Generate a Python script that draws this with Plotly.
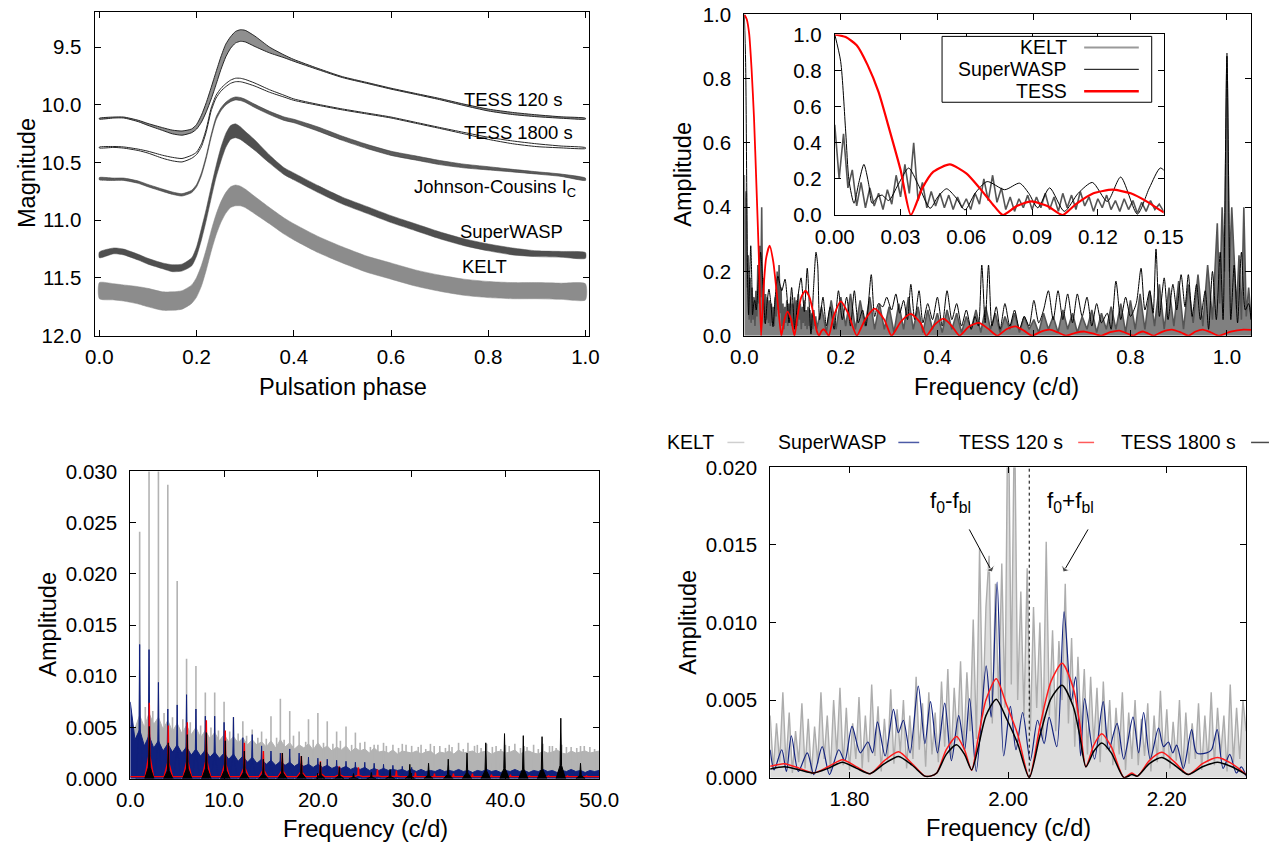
import plotly.graph_objects as go

W, H = 1281, 843
FONT = "Liberation Sans"
A = 0.975  # compensation for the photographed page scale

# ---------------- Panel 1: phased light curves ----------------
lc_phase = [0.00, 0.03, 0.05, 0.08, 0.10, 0.13, 0.15, 0.17, 0.19, 0.20, 0.21, 0.22,
            0.23, 0.24, 0.25, 0.26, 0.27, 0.28, 0.29, 0.30, 0.32, 0.35, 0.38, 0.40,
            0.45, 0.50, 0.55, 0.60, 0.65, 0.70, 0.75, 0.80, 0.85, 0.90, 0.95, 1.00]
tess120_mag = [10.12, 10.11, 10.11, 10.14, 10.17, 10.21, 10.235, 10.245, 10.225, 10.19, 10.12, 10.02,
               9.90, 9.77, 9.64, 9.53, 9.46, 9.415, 9.40, 9.405, 9.45, 9.525, 9.58, 9.615,
               9.69, 9.76, 9.81, 9.86, 9.905, 9.95, 10.00, 10.045, 10.075, 10.095, 10.11, 10.12]
tess120_spread = [0.004, 0.004, 0.004, 0.006, 0.008, 0.012, 0.016, 0.018, 0.016, 0.02, 0.03, 0.04,
                  0.05, 0.055, 0.055, 0.055, 0.05, 0.05, 0.05, 0.05, 0.045, 0.025, 0.012, 0.008,
                  0.005, 0.004, 0.004, 0.004, 0.004, 0.005, 0.006, 0.008, 0.009, 0.008, 0.006, 0.004]
tess1800_mag = [10.37, 10.365, 10.37, 10.39, 10.41, 10.45, 10.47, 10.48, 10.45, 10.42, 10.35, 10.22,
                10.04, 9.93, 9.87, 9.83, 9.80, 9.785, 9.785, 9.795, 9.825, 9.88, 9.925, 9.955,
                10.00, 10.04, 10.075, 10.11, 10.155, 10.20, 10.245, 10.29, 10.325, 10.35, 10.365, 10.375]
tess1800_spread = [0.004, 0.004, 0.005, 0.006, 0.008, 0.013, 0.015, 0.015, 0.013, 0.01, 0.012, 0.012,
                   0.012, 0.012, 0.012, 0.013, 0.014, 0.015, 0.015, 0.015, 0.013, 0.011, 0.008, 0.006,
                   0.004, 0.004, 0.004, 0.004, 0.004, 0.004, 0.006, 0.009, 0.012, 0.012, 0.008, 0.004]
jc_mag = [10.64, 10.645, 10.645, 10.67, 10.70, 10.74, 10.765, 10.78, 10.75, 10.70, 10.60, 10.45,
          10.27, 10.12, 10.04, 9.99, 9.96, 9.945, 9.95, 9.965, 10.01, 10.07, 10.12, 10.14,
          10.21, 10.29, 10.36, 10.42, 10.46, 10.50, 10.53, 10.55, 10.57, 10.59, 10.61, 10.645]
jc_spread = [0.010, 0.010, 0.010, 0.010, 0.010, 0.010, 0.010, 0.010, 0.010, 0.010, 0.012, 0.012,
             0.012, 0.012, 0.012, 0.012, 0.013, 0.013, 0.013, 0.013, 0.014, 0.014, 0.015, 0.015,
             0.018, 0.018, 0.018, 0.018, 0.018, 0.018, 0.016, 0.014, 0.011, 0.010, 0.010, 0.010]
swasp_mag = [11.30, 11.265, 11.275, 11.32, 11.355, 11.395, 11.415, 11.41, 11.36, 11.27, 11.12, 10.95,
             10.76, 10.58, 10.43, 10.31, 10.24, 10.225, 10.245, 10.28, 10.35, 10.47, 10.575, 10.62,
             10.73, 10.83, 10.91, 10.99, 11.06, 11.13, 11.19, 11.235, 11.27, 11.29, 11.295, 11.305]
swasp_spread = [0.025, 0.025, 0.025, 0.025, 0.025, 0.025, 0.03, 0.03, 0.035, 0.04, 0.05, 0.05,
                0.05, 0.05, 0.06, 0.06, 0.06, 0.06, 0.055, 0.05, 0.045, 0.035, 0.03, 0.03,
                0.03, 0.03, 0.03, 0.03, 0.03, 0.03, 0.03, 0.03, 0.03, 0.025, 0.025, 0.025]
kelt_mag = [11.61, 11.62, 11.63, 11.65, 11.67, 11.70, 11.70, 11.69, 11.64, 11.58, 11.48, 11.34,
            11.18, 11.04, 10.93, 10.85, 10.80, 10.785, 10.79, 10.81, 10.87, 10.96, 11.05, 11.10,
            11.21, 11.30, 11.38, 11.44, 11.50, 11.545, 11.58, 11.60, 11.61, 11.61, 11.615, 11.62]
kelt_spread = [0.07, 0.07, 0.07, 0.075, 0.08, 0.08, 0.08, 0.08, 0.08, 0.085, 0.09, 0.09,
               0.09, 0.09, 0.09, 0.09, 0.09, 0.09, 0.085, 0.08, 0.075, 0.07, 0.07, 0.07,
               0.07, 0.07, 0.07, 0.07, 0.07, 0.07, 0.07, 0.07, 0.07, 0.07, 0.07, 0.07]
lc_labels = ["TESS 120 s", "TESS 1800 s", "Johnson-Cousins I<sub>C</sub>", "SuperWASP", "KELT"]
lc_label_x = [0.851, 0.863, 0.814, 0.847, 0.793]
lc_label_y = [9.958, 10.239, 10.72, 11.10, 11.40]

# ---------------- Panel 2: spectral windows ----------------
win_kelt_f = [0.000, 0.002, 0.004, 0.006, 0.008, 0.010, 0.012, 0.014, 0.016, 0.018, 0.020, 0.022,
              0.024, 0.026, 0.028, 0.030, 0.032, 0.034, 0.036, 0.038, 0.040, 0.042, 0.044, 0.046,
              0.048, 0.050, 0.052, 0.054, 0.056, 0.058, 0.060, 0.062, 0.064, 0.066, 0.068, 0.070,
              0.072, 0.074, 0.076, 0.078, 0.080, 0.082, 0.084, 0.086, 0.088, 0.090, 0.092, 0.094,
              0.096, 0.098, 0.100, 0.102, 0.104, 0.106, 0.108, 0.110, 0.112, 0.114, 0.116, 0.118,
              0.120, 0.122, 0.124, 0.126, 0.128, 0.130, 0.132, 0.134, 0.136, 0.138, 0.140, 0.142,
              0.144, 0.146, 0.148, 0.150,
              0.16, 0.17, 0.18, 0.19, 0.20, 0.21, 0.22, 0.23, 0.24, 0.25, 0.26, 0.27, 0.28, 0.29,
              0.30, 0.31, 0.32, 0.33, 0.34, 0.35, 0.36, 0.37, 0.38, 0.39, 0.40, 0.41, 0.42, 0.43,
              0.44, 0.45, 0.46, 0.47, 0.48, 0.49, 0.50, 0.51, 0.52, 0.53, 0.54, 0.55, 0.56, 0.57,
              0.58, 0.59, 0.60, 0.61, 0.62, 0.63, 0.64, 0.65, 0.66, 0.67, 0.68, 0.69, 0.70, 0.71,
              0.72, 0.73, 0.74, 0.75, 0.76, 0.77, 0.78, 0.79, 0.80, 0.81, 0.82, 0.83, 0.84, 0.85,
              0.86, 0.87, 0.88, 0.89, 0.90, 0.91, 0.92, 0.93, 0.94, 0.95, 0.96, 0.97,
              0.98, 0.985, 0.99, 0.995, 1.00, 1.005, 1.01, 1.02, 1.025, 1.03, 1.035, 1.04, 1.045, 1.05]
win_kelt_a = [0.50, 0.20, 0.45, 0.15, 0.25, 0.05, 0.18, 0.04, 0.15, 0.05, 0.12, 0.03,
              0.14, 0.06, 0.22, 0.10, 0.28, 0.12, 0.40, 0.08, 0.18, 0.04, 0.13, 0.05,
              0.12, 0.04, 0.11, 0.03, 0.10, 0.04, 0.09, 0.03, 0.12, 0.06, 0.20, 0.08,
              0.22, 0.07, 0.15, 0.03, 0.10, 0.02, 0.09, 0.04, 0.11, 0.03, 0.10, 0.04,
              0.12, 0.03, 0.10, 0.02, 0.12, 0.04, 0.11, 0.03, 0.13, 0.05, 0.10, 0.02,
              0.09, 0.04, 0.11, 0.03, 0.08, 0.02, 0.09, 0.03, 0.08, 0.01, 0.07, 0.02,
              0.08, 0.03, 0.06, 0.02,
              0.09, 0.01, 0.11, 0.02, 0.12, 0.03, 0.13, 0.02, 0.11, 0.03, 0.12, 0.02, 0.10, 0.02,
              0.09, 0.01, 0.10, 0.02, 0.12, 0.02, 0.09, 0.01, 0.08, 0.02, 0.07, 0.01, 0.08, 0.02,
              0.07, 0.01, 0.06, 0.02, 0.08, 0.01, 0.09, 0.02, 0.07, 0.01, 0.06, 0.02, 0.07, 0.01,
              0.06, 0.02, 0.05, 0.01, 0.07, 0.02, 0.06, 0.01, 0.08, 0.02, 0.07, 0.01, 0.06, 0.02,
              0.08, 0.01, 0.07, 0.02, 0.09, 0.02, 0.10, 0.01, 0.11, 0.02, 0.13, 0.02, 0.14, 0.03,
              0.16, 0.02, 0.15, 0.03, 0.17, 0.02, 0.16, 0.04, 0.19, 0.03, 0.22, 0.05,
              0.35, 0.10, 0.40, 0.20, 0.88, 0.20, 0.40, 0.08, 0.25, 0.05, 0.40, 0.06, 0.15, 0.05]

win_swasp_f = [0.000, 0.0027, 0.005, 0.0065, 0.0088, 0.011, 0.0133, 0.0155, 0.017, 0.0195, 0.0216,
               0.0246, 0.029, 0.0337, 0.038, 0.0435, 0.047, 0.051, 0.055, 0.0594, 0.064, 0.0695,
               0.0775, 0.0843, 0.0885, 0.0926, 0.098, 0.1047, 0.111, 0.1175, 0.1243, 0.1304, 0.138,
               0.1435, 0.1485, 0.152, 0.156, 0.163, 0.170, 0.178, 0.186, 0.195, 0.203, 0.212, 0.220,
               0.228, 0.236, 0.245, 0.252, 0.263, 0.270, 0.278, 0.287, 0.295, 0.305, 0.314, 0.322,
               0.330, 0.338, 0.345, 0.353, 0.362, 0.370, 0.380, 0.390, 0.400, 0.410, 0.420, 0.430,
               0.440, 0.450, 0.460, 0.470, 0.478, 0.485, 0.492, 0.499, 0.506, 0.513, 0.522, 0.530,
               0.540, 0.550, 0.560, 0.570, 0.580, 0.590, 0.600, 0.610, 0.620, 0.630, 0.640, 0.650,
               0.660, 0.670, 0.680, 0.690, 0.700, 0.710, 0.720, 0.730, 0.740, 0.752, 0.760, 0.770,
               0.780, 0.790, 0.800, 0.812, 0.822, 0.830, 0.840, 0.847, 0.853, 0.860, 0.870, 0.878,
               0.888, 0.896, 0.905, 0.913, 0.920, 0.928, 0.937, 0.945, 0.955, 0.962, 0.970, 0.978,
               0.986, 0.992, 1.000, 1.008, 1.015, 1.022, 1.030, 1.038, 1.045, 1.050]
win_swasp_a = [1.00, 0.85, 0.46, 0.19, 0.065, 0.18, 0.28, 0.17, 0.065, 0.10, 0.11,
               0.08, 0.17, 0.26, 0.17, 0.037, 0.10, 0.145, 0.10, 0.028, 0.12, 0.185,
               0.14, 0.176, 0.12, 0.04, 0.15, 0.02, 0.12, 0.18, 0.075, 0.21, 0.005,
               0.15, 0.26, 0.22, 0.05, 0.12, 0.03, 0.09, 0.02, 0.14, 0.05, 0.12, 0.03,
               0.14, 0.04, 0.08, 0.03, 0.19, 0.06, 0.10, 0.09, 0.12, 0.08, 0.13, 0.07,
               0.11, 0.05, 0.16, 0.05, 0.14, 0.04, 0.10, 0.05, 0.12, 0.03, 0.14, 0.05,
               0.10, 0.03, 0.08, 0.02, 0.06, 0.03, 0.22, 0.04, 0.22, 0.03, 0.09, 0.02,
               0.10, 0.03, 0.08, 0.02, 0.06, 0.03, 0.11, 0.04, 0.08, 0.14, 0.05, 0.14,
               0.05, 0.13, 0.04, 0.13, 0.06, 0.12, 0.03, 0.10, 0.04, 0.07, 0.02, 0.17,
               0.05, 0.12, 0.06, 0.10, 0.21, 0.08, 0.14, 0.07, 0.27, 0.06, 0.18, 0.05,
               0.16, 0.08, 0.19, 0.09, 0.19, 0.06, 0.16, 0.05, 0.14, 0.02, 0.20, 0.05,
               0.26, 0.05, 0.87, 0.05, 0.22, 0.04, 0.26, 0.08, 0.10, 0.05]

win_tess_f = [0.000, 0.005, 0.010, 0.015, 0.020, 0.025, 0.030, 0.0347, 0.040, 0.045, 0.0525, 0.060,
              0.066, 0.072, 0.0767, 0.083, 0.0896, 0.097, 0.1039, 0.110, 0.118, 0.1266, 0.135, 0.143,
              0.150, 0.155, 0.160, 0.165, 0.170, 0.175, 0.185, 0.200, 0.215, 0.233, 0.250, 0.270,
              0.290, 0.305, 0.325, 0.345, 0.365, 0.377, 0.395, 0.413, 0.430, 0.446, 0.465, 0.486,
              0.505, 0.524, 0.543, 0.562, 0.580, 0.596, 0.615, 0.633, 0.650, 0.667, 0.686, 0.705,
              0.722, 0.739, 0.758, 0.777, 0.795, 0.806, 0.817, 0.827, 0.838, 0.848, 0.867, 0.886,
              0.905, 0.920, 0.935, 0.950, 0.967, 0.983, 1.008, 1.034, 1.050]
win_tess_a = [1.00, 0.985, 0.94, 0.83, 0.68, 0.47, 0.25, 0.0, 0.15, 0.24, 0.28, 0.23,
              0.15, 0.06, 0.0, 0.05, 0.075, 0.05, 0.0, 0.06, 0.12, 0.14, 0.12, 0.07,
              0.015, 0.0, 0.015, 0.02, 0.01, 0.0, 0.06, 0.107, 0.07, 0.0, 0.05, 0.084,
              0.05, 0.0, 0.045, 0.068, 0.04, 0.0, 0.035, 0.053, 0.03, 0.0, 0.028, 0.04,
              0.022, 0.0, 0.02, 0.029, 0.015, 0.0, 0.013, 0.019, 0.01, 0.0, 0.009, 0.013,
              0.007, 0.0, 0.011, 0.016, 0.006, 0.0, 0.009, 0.013, 0.006, 0.0, 0.013, 0.019,
              0.01, 0.0, 0.013, 0.019, 0.01, 0.0, 0.013, 0.019, 0.018]

# ---------------- Panel 3: amplitude spectra 0-50 c/d ----------------
ft_grid = [0.0, 0.5, 1.0, 1.5, 2.0, 2.5, 3.0, 3.5, 4.0, 4.5, 5.0, 5.5, 6.0, 6.5, 7.0, 7.5, 8.0, 8.5,
           9.0, 9.5, 10.0, 10.5, 11.0, 11.5, 12.0, 12.5, 13.0, 13.5, 14.0, 14.5, 15.0, 15.5, 16.0,
           16.5, 17.0, 17.5, 18.0, 18.5, 19.0, 19.5, 20.0, 20.5, 21.0, 21.5, 22.0, 22.5, 23.0, 23.5,
           24.0, 24.5, 25.0, 25.5, 26.0, 26.5, 27.0, 27.5, 28.0, 28.5, 29.0, 29.5, 30.0, 30.5, 31.0,
           31.5, 32.0, 32.5, 33.0, 33.5, 34.0, 34.5, 35.0, 35.5, 36.0, 36.5, 37.0, 37.5, 38.0, 38.5,
           39.0, 39.5, 40.0, 40.5, 41.0, 41.5, 42.0, 42.5, 43.0, 43.5, 44.0, 44.5, 45.0, 45.5, 46.0,
           46.5, 47.0, 47.5, 48.0, 48.5, 49.0, 49.5, 50.0]
kelt_floor = [0.0052, 0.0049, 0.0062, 0.0050, 0.0064, 0.0053, 0.0060, 0.0048, 0.0057, 0.0046, 0.0054,
              0.0044, 0.0052, 0.0043, 0.0050, 0.0040, 0.0047, 0.0039, 0.0045, 0.0037, 0.0043, 0.0036,
              0.0041, 0.0035, 0.0040, 0.0033, 0.0038, 0.0033, 0.0036, 0.0031, 0.0037, 0.0030, 0.0038,
              0.0031, 0.0035, 0.0029, 0.0033, 0.0030, 0.0034, 0.0028, 0.0035, 0.0029, 0.0032, 0.0027,
              0.0031, 0.0028, 0.0032, 0.0026, 0.0030, 0.0027, 0.0029, 0.0025, 0.0030, 0.0026, 0.0027,
              0.0025, 0.0028, 0.0024, 0.0027, 0.0026, 0.0025, 0.0027, 0.0024, 0.0026, 0.0027, 0.0023,
              0.0026, 0.0025, 0.0027, 0.0024, 0.0028, 0.0025, 0.0026, 0.0027, 0.0024, 0.0026, 0.0027,
              0.0024, 0.0026, 0.0027, 0.0025, 0.0026, 0.0028, 0.0024, 0.0026, 0.0027, 0.0025, 0.0024,
              0.0027, 0.0025, 0.0026, 0.0028, 0.0025, 0.0024, 0.0027, 0.0025, 0.0026, 0.0027, 0.0025,
              0.0026, 0.0027]
swasp_floor = [0.0075, 0.0038, 0.0048, 0.0032, 0.0042, 0.0030, 0.0037, 0.0027, 0.0034, 0.0026, 0.0033,
               0.0025, 0.0031, 0.0023, 0.0029, 0.0022, 0.0028, 0.0021, 0.0026, 0.0020, 0.0025, 0.0019,
               0.0024, 0.0017, 0.0022, 0.0016, 0.0021, 0.0015, 0.0019, 0.0014, 0.0018, 0.0013, 0.0017,
               0.0013, 0.0016, 0.0012, 0.0015, 0.0012, 0.0014, 0.0011, 0.0014, 0.0011, 0.0013, 0.0010,
               0.0012, 0.0010, 0.0012, 0.0009, 0.0011, 0.0009, 0.0011, 0.0008, 0.0010, 0.0008, 0.0010,
               0.0008, 0.0009, 0.0008, 0.0009, 0.0007, 0.0009, 0.0007, 0.0009, 0.0007, 0.0008, 0.0007,
               0.0009, 0.0007, 0.0008, 0.0007, 0.0009, 0.0007, 0.0008, 0.0006, 0.0008, 0.0007, 0.0009,
               0.0007, 0.0008, 0.0006, 0.0008, 0.0007, 0.0009, 0.0007, 0.0008, 0.0006, 0.0008, 0.0007,
               0.0009, 0.0007, 0.0008, 0.0006, 0.0008, 0.0007, 0.0009, 0.0007, 0.0008, 0.0006, 0.0008,
               0.0007, 0.0008]
kelt_spike_f = [1.0, 2.0, 3.0, 4.0, 5.0, 6.0, 7.0, 8.0, 9.0, 10.0, 11.0, 12.0, 13.0, 14.0, 15.0, 16.0,
                17.0, 18.0, 19.0, 20.0, 21.0, 22.0, 23.0, 24.0, 25.0, 26.0, 27.0, 28.0, 29.0, 30.0,
                31.0, 32.0, 33.0, 34.0, 35.0, 36.0, 37.0, 38.0, 39.0, 40.0, 41.0, 42.0, 43.0, 44.0,
                45.0, 46.0, 47.0, 48.0, 49.0]
kelt_spike_a = [0.0241, 0.0320, 0.0320, 0.0287, 0.0193, 0.0117, 0.0110, 0.0084, 0.0084, 0.0075, 0.0060,
                0.0056, 0.0048, 0.0046, 0.0061, 0.0078, 0.0066, 0.0046, 0.0058, 0.0064, 0.0056, 0.0046,
                0.0051, 0.0045, 0.0036, 0.0033, 0.0035, 0.0033, 0.0034, 0.0032, 0.0033, 0.0034, 0.0032,
                0.0033, 0.0035, 0.0035, 0.0033, 0.0034, 0.0032, 0.0033, 0.0034, 0.0032, 0.0033, 0.0034,
                0.0032, 0.0033, 0.0031, 0.0032, 0.0031]
kelt_noise_f = [1.6, 2.4, 3.6, 4.5, 5.6, 6.4, 7.5, 8.6, 9.4, 10.6, 11.5, 12.4, 13.6, 14.5, 15.6, 16.4,
                17.4, 18.7, 19.5, 20.6, 21.6, 22.4, 23.6, 24.5, 25.6, 26.4, 27.3, 28.6, 29.4, 30.7,
                31.5, 32.4, 33.6, 34.3, 35.5, 36.7, 37.4, 38.6, 39.5, 40.4, 41.6, 42.3, 43.5, 44.7,
                45.4, 46.5, 47.6, 48.4, 49.5]
kelt_noise_a = [0.0070, 0.0066, 0.0064, 0.0060, 0.0058, 0.0055, 0.0052, 0.0050, 0.0047, 0.0046, 0.0044,
                0.0042, 0.0040, 0.0039, 0.0040, 0.0038, 0.0042, 0.0036, 0.0038, 0.0035, 0.0034, 0.0037,
                0.0033, 0.0035, 0.0031, 0.0033, 0.0032, 0.0030, 0.0033, 0.0031, 0.0029, 0.0032, 0.0030,
                0.0031, 0.0029, 0.0032, 0.0030, 0.0031, 0.0029, 0.0032, 0.0030, 0.0031, 0.0029, 0.0032,
                0.0030, 0.0031, 0.0030, 0.0032, 0.0029]
swasp_spike_f = [1.0, 2.0, 3.0, 4.0, 5.0, 6.0, 7.0, 8.0, 9.0, 10.0, 11.0, 12.0, 13.0, 14.0, 15.0,
                 16.0, 17.0, 18.0, 19.0, 20.0, 21.0, 22.0, 23.0, 24.0, 25.0, 26.0, 27.0, 28.0, 29.0, 30.0]
swasp_spike_a = [0.0131, 0.0126, 0.0094, 0.0068, 0.0072, 0.0082, 0.0068, 0.0061, 0.0061, 0.0055,
                 0.0060, 0.0040, 0.0043, 0.0032, 0.0027, 0.0025, 0.0029, 0.0025, 0.0021, 0.0020,
                 0.0019, 0.0018, 0.0017, 0.0016, 0.0016, 0.0015, 0.0014, 0.0013, 0.0012, 0.0011]
tess120_peak_f = [2.03, 4.05, 6.08, 8.11, 10.13, 12.16, 14.19, 16.21, 18.24, 20.27, 22.29, 24.32,
                  26.35, 28.37, 30.40, 32.43, 34.45, 36.48, 38.51, 40.53, 42.56, 44.59, 46.61, 48.64]
tess120_peak_a = [0.0074, 0.0052, 0.0055, 0.0057, 0.0047, 0.0035, 0.0027, 0.0025, 0.0022, 0.0017,
                  0.0012, 0.0011, 0.0009, 0.0008, 0.0006, 0.0005, 0.0005, 0.0005, 0.0004, 0.0004,
                  0.0003, 0.0003, 0.0003, 0.0003]
tess1800_peak_f = [2.03, 4.05, 6.08, 8.11, 10.13, 12.16, 14.19, 16.21, 18.24, 20.27, 22.29, 23.8,
                   25.7, 27.7, 29.8, 31.8, 33.9, 35.9, 37.9, 39.9, 41.9, 43.9, 45.9, 48.0]
tess1800_peak_a = [0.0051, 0.0035, 0.0043, 0.0045, 0.0037, 0.0027, 0.0019, 0.0025, 0.0022, 0.0016,
                   0.0011, 0.0005, 0.0006, 0.0009, 0.0014, 0.0015, 0.0019, 0.0025, 0.0035, 0.0044,
                   0.0042, 0.0041, 0.0059, 0.0015]

# ---------------- Panel 4: zoom around f0 ----------------
f0 = 2.0266
z_kelt_f = [1.700, 1.704, 1.708, 1.712, 1.716, 1.720, 1.724, 1.728, 1.732, 1.736, 1.740, 1.744,
            1.748, 1.752, 1.756, 1.760, 1.764, 1.768, 1.772, 1.776, 1.780, 1.784, 1.788, 1.792,
            1.796, 1.800, 1.804, 1.808, 1.812, 1.816, 1.820, 1.824, 1.828, 1.832, 1.836, 1.840,
            1.844, 1.848, 1.852, 1.856, 1.860, 1.864, 1.868, 1.872, 1.876, 1.880, 1.884, 1.888,
            1.892, 1.896, 1.900, 1.904, 1.908, 1.912, 1.916, 1.920, 1.924, 1.928, 1.932, 1.936,
            1.940, 1.944, 1.948, 1.952, 1.956, 1.960, 1.964, 1.968, 1.972, 1.976, 1.980, 1.984,
            1.988, 1.992, 1.996, 2.000, 2.004, 2.008, 2.012, 2.016, 2.020, 2.024, 2.028, 2.032,
            2.036, 2.040, 2.044, 2.048, 2.052, 2.056, 2.060, 2.064, 2.068, 2.072, 2.076, 2.080,
            2.084, 2.088, 2.092, 2.096, 2.100, 2.104, 2.108, 2.112, 2.116, 2.120, 2.124, 2.128,
            2.132, 2.136, 2.140, 2.144, 2.148, 2.152, 2.156, 2.160, 2.164, 2.168, 2.172, 2.176,
            2.180, 2.184, 2.188, 2.192, 2.196, 2.200, 2.204, 2.208, 2.212, 2.216, 2.220, 2.224,
            2.228, 2.232, 2.236, 2.240, 2.244, 2.248, 2.252, 2.256, 2.260, 2.264, 2.268, 2.272,
            2.276, 2.280, 2.284, 2.288, 2.292, 2.296, 2.300]
z_kelt_a = [0.0040, 0.0005, 0.0035, 0.0010, 0.0055, 0.0008, 0.0042, 0.0003, 0.0030, 0.0010, 0.0048, 0.0006,
            0.0038, 0.0002, 0.0033, 0.0009, 0.0055, 0.0012, 0.0040, 0.0004, 0.0050, 0.0015, 0.0058, 0.0008,
            0.0045, 0.0005, 0.0035, 0.0012, 0.0052, 0.0006, 0.0040, 0.0010, 0.0060, 0.0014, 0.0046, 0.0004,
            0.0038, 0.0011, 0.0057, 0.0009, 0.0044, 0.0016, 0.0050, 0.0006, 0.0040, 0.0012, 0.0065, 0.0018,
            0.0048, 0.0007, 0.0055, 0.0015, 0.0042, 0.0010, 0.0062, 0.0020, 0.0070, 0.0012, 0.0058, 0.0024,
            0.0075, 0.0018, 0.0068, 0.0030, 0.0102, 0.0025, 0.0148, 0.0040, 0.0110, 0.0143, 0.0035, 0.0125,
            0.0050, 0.0138, 0.0045, 0.0260, 0.0060, 0.0240, 0.0050, 0.0120, 0.0040, 0.0135, 0.0030, 0.0110,
            0.0045, 0.0100, 0.0025, 0.0152, 0.0040, 0.0095, 0.0030, 0.0088, 0.0050, 0.0125, 0.0035, 0.0090,
            0.0020, 0.0078, 0.0030, 0.0070, 0.0015, 0.0065, 0.0022, 0.0058, 0.0010, 0.0062, 0.0018, 0.0050,
            0.0008, 0.0045, 0.0015, 0.0055, 0.0005, 0.0042, 0.0012, 0.0050, 0.0008, 0.0038, 0.0014, 0.0048,
            0.0004, 0.0040, 0.0010, 0.0056, 0.0012, 0.0044, 0.0006, 0.0036, 0.0011, 0.0050, 0.0003, 0.0042,
            0.0009, 0.0035, 0.0012, 0.0048, 0.0005, 0.0040, 0.0010, 0.0055, 0.0008, 0.0045, 0.0015, 0.0040,
            0.0004, 0.0060, 0.0010, 0.0045, 0.0012, 0.0050, 0.0030]
z_swasp_f = [1.700, 1.7050, 1.7146, 1.7205, 1.7267, 1.7355, 1.7468, 1.7551, 1.7656, 1.7748, 1.7865,
             1.7940, 1.8032, 1.8136, 1.8232, 1.8291, 1.8353, 1.8449, 1.8554, 1.8616, 1.8679, 1.8763,
             1.8867, 1.8951, 1.9021, 1.9109, 1.9201, 1.9285, 1.9377, 1.9452, 1.9514, 1.9598, 1.9723,
             1.9786, 1.9861, 1.9944, 2.0028, 2.0099, 2.0183, 2.0279, 2.0371, 2.0454, 2.0517, 2.0613,
             2.0705, 2.0797, 2.0851, 2.0914, 2.0964, 2.1089, 2.1198, 2.1269, 2.1373, 2.1457, 2.1574,
             2.1645, 2.1708, 2.1791, 2.1896, 2.1958, 2.2021, 2.2075, 2.2125, 2.2209, 2.2313, 2.2376,
             2.2501, 2.2564, 2.2635, 2.2710, 2.2794, 2.2877, 2.2940, 2.3000]
z_swasp_a = [0.0018, 0.0005, 0.0018, 0.0004, 0.0027, 0.0004, 0.0016, 0.0002, 0.0020, 0.0002, 0.0018,
             0.0011, 0.0033, 0.0016, 0.0023, 0.0016, 0.0036, 0.0014, 0.0044, 0.0029, 0.0037, 0.0016,
             0.0059, 0.0022, 0.0049, 0.0016, 0.0048, 0.0011, 0.0040, 0.0018, 0.0051, 0.0004, 0.0072,
             0.0039, 0.0126, 0.0014, 0.0046, 0.0018, 0.0042, 0.0011, 0.0037, 0.0022, 0.0039, 0.0020,
             0.0107, 0.0050, 0.0065, 0.0014, 0.0051, 0.0012, 0.0049, 0.0018, 0.0035, 0.0012, 0.0039,
             0.0016, 0.0042, 0.0012, 0.0032, 0.0020, 0.0023, 0.0016, 0.0021, 0.0006, 0.0031, 0.0016,
             0.0016, 0.0018, 0.0031, 0.0006, 0.0015, 0.0003, 0.0007, 0.0001]
z_tess_f = [1.700, 1.718, 1.737, 1.755, 1.773, 1.791, 1.809, 1.826, 1.844, 1.862, 1.879, 1.895,
            1.902, 1.910, 1.922, 1.935, 1.945, 1.954, 1.962, 1.972, 1.985, 1.998, 2.012, 2.0266,
            2.040, 2.054, 2.068, 2.082, 2.090, 2.098, 2.108, 2.118, 2.130, 2.146, 2.156, 2.163,
            2.178, 2.194, 2.210, 2.227, 2.245, 2.264, 2.282, 2.300]
z_tess120_a = [0.00073, 0.0009, 0.0006, 0.0003, 0.0007, 0.00116, 0.0007, 0.00026, 0.0011, 0.00167, 0.0009, 0.0001,
               0.0001, 0.0003, 0.0018, 0.00266, 0.0018, 0.00047, 0.0025, 0.0050, 0.00637, 0.0047, 0.0028, 0.0,
               0.0033, 0.0062, 0.00737, 0.0058, 0.0036, 0.0007, 0.0021, 0.00283, 0.0020, 0.0, 0.0003, 0.0001,
               0.0011, 0.00163, 0.0010, 0.0002, 0.0009, 0.0013, 0.0009, 0.0002]
z_tess1800_a = [0.00056, 0.0007, 0.0005, 0.0003, 0.0006, 0.0010, 0.0006, 0.00026, 0.0009, 0.00137, 0.0008, 0.0001,
                0.0001, 0.0003, 0.0015, 0.00212, 0.0015, 0.0005, 0.0019, 0.0040, 0.00506, 0.0038, 0.0022, 0.0,
                0.0027, 0.0051, 0.00596, 0.0046, 0.0028, 0.0007, 0.0017, 0.00223, 0.0016, 0.0, 0.0002, 0.0001,
                0.0009, 0.0013, 0.0008, 0.0002, 0.0007, 0.0010, 0.0007, 0.0002]
z_legend = ["KELT", "SuperWASP", "TESS 120 s", "TESS 1800 s"]
blend_labels = ["f<sub>0</sub>-f<sub>bl</sub>", "f<sub>0</sub>+f<sub>bl</sub>"]
blend_head_f = [1.980, 2.0695]
blend_head_a = [0.01325, 0.01325]
blend_tail_f = [1.951, 2.1007]
blend_tail_a = [0.0160, 0.0160]
blend_text_f = [1.927, 2.078]
blend_text_a = [0.0178, 0.0178]

# ---------------- helpers ----------------
def px(x):
    return ((x - W / 2) / A + W / 2) / W

def py(y):
    return 1 - ((y - H / 2) / A + H / 2) / H

def fs(s):
    return s / A

def band(xs, mid, spr):
    up = [m - s for m, s in zip(mid, spr)]
    lo = [m + s for m, s in zip(mid, spr)]
    return list(xs) + list(xs)[::-1] + [xs[0]], up + lo[::-1] + [up[0]]

def tents(freqs, amps, half, sh, frac):
    xs, ys = [], []
    for f, a in zip(freqs, amps):
        xs += [f - half, f - sh, f, f + sh, f + half, None]
        ys += [0, a * frac, a, a * frac, 0, None]
    return xs, ys

def spikes(freqs, amps):
    xs, ys = [], []
    for f, a in zip(freqs, amps):
        xs += [f, f, None]
        ys += [0, a, None]
    return xs, ys

def baseline_peaks(freqs, amps, half, sh, frac, base, x0, x1):
    xs, ys = [x0], [base]
    for f, a in zip(freqs, amps):
        xs += [f - half, f - sh, f, f + sh, f + half]
        ys += [base, max(a * frac, base), a, max(a * frac, base), base]
    xs.append(x1)
    ys.append(base)
    return xs, ys

def line(x, y, xa, ya, **kw):
    return go.Scatter(x=x, y=y, mode="lines", xaxis=xa, yaxis=ya, showlegend=False,
                      hoverinfo="skip", **kw)

fig = go.Figure()

# Panel 1 traces
p1 = [
    (kelt_mag, kelt_spread, "rgba(128,128,128,0.9)", "#8a8a8a", 0.5),
    (swasp_mag, swasp_spread, "#4f4f4f", "#4f4f4f", 0.5),
    (jc_mag, jc_spread, "#5c5c5c", "#3e3e3e", 0.6),
    (tess1800_mag, tess1800_spread, "rgba(255,255,255,0)", "#262626", 1.0),
    (tess120_mag, tess120_spread, "#8f8f8f", "#262626", 1.0),
]
for mag, spr, fc, lc, lw in p1:
    bx, by = band(lc_phase, mag, spr)
    fig.add_trace(line(bx, by, "x", "y", fill="toself", fillcolor=fc,
                       line=dict(color=lc, width=lw, shape="spline", smoothing=0.6)))

# Panel 2 traces (main + inset)
for xa, ya, inset in (("x2", "y2", False), ("x3", "y3", True)):
    fig.add_trace(line(win_kelt_f, win_kelt_a, xa, ya,
                       fill=None if inset else "tozeroy", fillcolor="rgba(85,85,85,0.75)",
                       line=dict(color="#555555", width=1.6)))
    fig.add_trace(line(win_swasp_f, win_swasp_a, xa, ya,
                       line=dict(color="black", width=1.0, shape="spline", smoothing=0.7)))
    fig.add_trace(line(win_tess_f, win_tess_a, xa, ya,
                       line=dict(color="#ff0000", width=2.2 if inset else 1.8, shape="spline", smoothing=0.6)))

# Panel 3 traces
fig.add_trace(line(ft_grid, kelt_floor, "x4", "y4", fill="tozeroy", fillcolor="#b3b3b3",
                   line=dict(color="#b3b3b3", width=1)))
sx, sy = spikes(kelt_spike_f + kelt_noise_f, kelt_spike_a + kelt_noise_a)
fig.add_trace(line(sx, sy, "x4", "y4", line=dict(color="#b3b3b3", width=1.6)))
fig.add_trace(line(ft_grid, swasp_floor, "x4", "y4", fill="tozeroy", fillcolor="#10207d",
                   line=dict(color="#10207d", width=1)))
tx, ty = tents(swasp_spike_f, swasp_spike_a, 0.4, 0.07, 0.35)
fig.add_trace(line(tx, ty, "x4", "y4", fill="toself", fillcolor="#10207d",
                   line=dict(color="#10207d", width=1)))
rx, ry = baseline_peaks(tess120_peak_f, tess120_peak_a, 0.45, 0.06, 0.3, 0.0002, 0.0, 50.0)
fig.add_trace(line(rx, ry, "x4", "y4", line=dict(color="#ff0000", width=1.4)))
kx, ky = tents(tess1800_peak_f, tess1800_peak_a, 0.5, 0.08, 0.22)
fig.add_trace(line(kx, ky, "x4", "y4", fill="toself", fillcolor="black",
                   line=dict(color="black", width=1)))

# Panel 4 traces
fig.add_trace(line(z_kelt_f, z_kelt_a, "x5", "y5", fill="tozeroy", fillcolor="rgba(180,180,180,0.45)",
                   line=dict(color="#adadad", width=1.4)))
fig.add_trace(line(z_swasp_f, z_swasp_a, "x5", "y5",
                   line=dict(color="#13237f", width=1.2, shape="spline", smoothing=0.8)))
fig.add_trace(line(z_tess_f, z_tess120_a, "x5", "y5",
                   line=dict(color="#ff1a1a", width=1.5, shape="spline", smoothing=0.7)))
fig.add_trace(line(z_tess_f, z_tess1800_a, "x5", "y5",
                   line=dict(color="black", width=1.5, shape="spline", smoothing=0.7)))
fig.add_trace(line([f0, f0], [0, 0.020], "x5", "y5", line=dict(color="black", width=1, dash="dot")))
for hx, hy, tx_, ty_ in zip(blend_head_f, blend_head_a, blend_tail_f, blend_tail_a):
    fig.add_trace(go.Scatter(x=[tx_, hx], y=[ty_, hy], mode="lines+markers", xaxis="x5", yaxis="y5",
                             line=dict(color="black", width=1),
                             marker=dict(symbol="arrow-wide", size=[0, 10], angleref="previous",
                                         color="black"),
                             showlegend=False, hoverinfo="skip"))

# ---------------- axes ----------------
def axis(domain, rng, dtick, fmt, anchor, standoff, size=20):
    return dict(domain=domain, range=rng, dtick=dtick, tickformat=fmt, anchor=anchor,
                showline=True, mirror="ticks", ticks="inside", ticklen=6, tickwidth=1,
                linecolor="black", linewidth=1, tickcolor="black", showgrid=False, zeroline=False,
                tickfont=dict(size=fs(size), color="black", family=FONT), ticklabelstandoff=standoff)

fig.update_layout(
    xaxis=axis([px(91), px(589)], [-0.01, 1.008], 0.2, ".1f", "y", 3),
    yaxis=axis([py(335), py(11)], [12.0, 9.2], 0.5, ".1f", "x", 8),
    xaxis2=axis([px(745), px(1255)], [0, 1.05], 0.2, ".1f", "y2", 3),
    yaxis2=axis([py(335), py(13)], [0, 1.0], 0.2, ".1f", "x2", 8),
    xaxis3=axis([px(836), px(1167)], [0, 0.15], 0.03, ".2f", "y3", 3),
    yaxis3=axis([py(214), py(33)], [0, 1.0], 0.2, ".1f", "x3", 8),
    xaxis4=axis([px(127), px(599)], [0, 50], 10, ".1f", "y4", 3),
    yaxis4=axis([py(779), py(471)], [0, 0.030], 0.005, ".3f", "x4", 8),
    xaxis5=axis([px(771), px(1250)], [1.70, 2.30], 0.2, ".2f", "y5", 3),
    yaxis5=axis([py(778), py(467)], [0, 0.020], 0.005, ".3f", "x5", 8),
    width=W, height=H, margin=dict(l=0, r=0, t=0, b=0),
    paper_bgcolor="white", plot_bgcolor="white",
    font=dict(family=FONT, color="black", size=20), showlegend=False,
)
fig.layout.xaxis5.tick0 = 0

ann = []
def ptext(x, y, t, size=23, angle=0, xanchor="center"):
    ann.append(dict(x=px(x), y=py(y), xref="paper", yref="paper", text=t, showarrow=False,
                    font=dict(size=fs(size), family=FONT, color="black"), textangle=angle,
                    xanchor=xanchor, yanchor="middle"))

ptext(341, 386, "Pulsation phase")
ptext(23, 172, "Magnitude", angle=-90)
ptext(999, 386, "Frequency (c/d)")
ptext(683, 173, "Amplitude", angle=-90)
ptext(364, 829, "Frequency (c/d)")
ptext(44, 624, "Amplitude", angle=-90)
ptext(1011, 828, "Frequency (c/d)")
ptext(688, 622, "Amplitude", angle=-90)

for t, x, y in zip(lc_labels, lc_label_x, lc_label_y):
    ann.append(dict(x=x, y=y, xref="x", yref="y", text=t, showarrow=False,
                    font=dict(size=fs(18), family=FONT, color="black"), xanchor="center"))

# inset legend
inset_leg = [("KELT", "#9a9a9a", 2.0, 46), ("SuperWASP", "black", 1.0, 68), ("TESS", "#ff0000", 2.6, 90)]
shapes = [dict(type="rect", xref="paper", yref="paper", x0=px(944), x1=px(1155), y0=py(101), y1=py(35),
               line=dict(color="black", width=1), fillcolor="white", layer="above")]
for name, col, lw, yy in inset_leg:
    ptext(1072, yy, name, size=19, xanchor="right")
    shapes.append(dict(type="line", xref="paper", yref="paper", x0=px(1087), x1=px(1142),
                       y0=py(yy), y1=py(yy), line=dict(color=col, width=lw), layer="above"))

# bottom-right legend
z_leg_right = [716, 891, 1068, 1242]
z_leg_line = [(728, 745), (900, 921), (1081, 1097), (1255, 1273)]
z_leg_col = ["#cfcfcf", "#4b5aa6", "#ff5a5a", "#4a4a4a"]
for t, xr, (l0, l1), c in zip(z_legend, z_leg_right, z_leg_line, z_leg_col):
    ptext(xr, 442, t, size=19, xanchor="right")
    shapes.append(dict(type="line", xref="paper", yref="paper", x0=px(l0), x1=px(l1),
                       y0=py(442), y1=py(442), line=dict(color=c, width=1.5)))

for t, lx, ly in zip(blend_labels, blend_text_f, blend_text_a):
    ann.append(dict(x=lx, y=ly, xref="x5", yref="y5", text=t, showarrow=False,
                    font=dict(size=fs(22), family=FONT, color="black")))

fig.update_layout(annotations=ann, shapes=shapes)
fig.write_html("out.html", config={"displayModeBar": False},
               post_script="document.body.style.margin='0px';document.body.style.overflow='hidden';")
